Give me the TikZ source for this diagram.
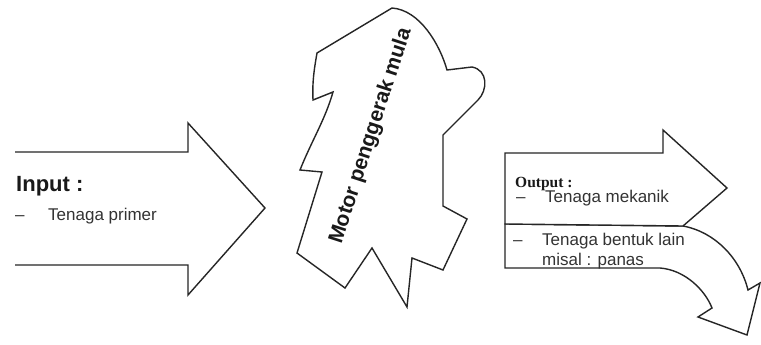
\documentclass[tikz,border=0pt]{standalone}
\usepackage{fontspec}
\setmainfont{Liberation Sans}
\newfontfamily\outfont{Liberation Serif}
\begin{document}
\begin{tikzpicture}[x=1pt,y=-1pt,
  outline/.style={draw=black!85,line width=1.4pt,line join=miter,fill=white},
  plain/.style={font=\fontsize{17}{20}\selectfont,text=black!80,inner sep=0pt,anchor=base west},
  boldlbl/.style={font=\fontsize{22}{24}\selectfont\bfseries,text=black!90,inner sep=0pt,anchor=base west}]
\useasboundingbox[fill=white] (0,0) rectangle (761,345);
% left (input) arrow, open at the left end
\draw[outline] (15,152) -- (188,152) -- (188,123) -- (265,208) -- (188,295) -- (188,265) -- (15,265);
% motor shape
\draw[outline] (317,53) -- (392,8) .. controls (420,10) and (440,45) .. (447,70)
  -- (472,67) .. controls (488,70) and (488,90) .. (478,100) -- (443,135)
  -- (443,206) -- (467,219) -- (443,270) -- (412,258) -- (407,307) -- (372,248)
  -- (345,288) -- (297,253) -- (322,172) -- (300,170)
  .. controls (312,140) and (325,120) .. (333,92) -- (313,100)
  .. controls (312,80) and (315,65) .. cycle;
% curved lower output arrow
\draw[outline] (505,268) -- (660,268) .. controls (685,270) and (705,290) .. (712,308)
  -- (698,317) -- (747,335) -- (760,283) -- (748,290)
  .. controls (740,258) and (715,232) .. (683,226) -- (505,224) -- cycle;
% straight upper output arrow
\draw[outline] (505,224) -- (505,153) -- (663,153) -- (663,130) -- (727,188) -- (683,226) -- cycle;
% texts
\node[boldlbl] (inp) at (16,191) {Input :};
\node[plain] (inp1) at (15,220) {\makebox[33pt][l]{–}Tenaga primer};
\node[font=\fontsize{21}{24}\selectfont\bfseries,text=black!90,inner sep=0pt,rotate=72] (motor) at (371,136) {Motor penggerak mula};
\node[font=\fontsize{15.5}{18}\selectfont\outfont\bfseries,text=black!90,inner sep=0pt,anchor=base west] (out) at (515,187) {Output :};
\node[plain] (out1) at (516,202) {\makebox[29pt][l]{–}Tenaga mekanik};
\node[plain] (out2) at (513,245) {\makebox[29pt][l]{–}Tenaga bentuk lain};
\node[plain] (out3) at (542,265) {misal : panas};
\end{tikzpicture}
\end{document}
